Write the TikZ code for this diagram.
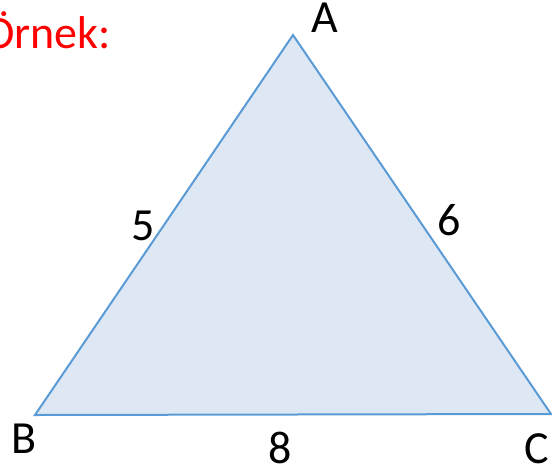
\documentclass[tikz,border=0pt]{standalone}
\usepackage{fontspec}
\setmainfont{Carlito}
\definecolor{edge}{HTML}{5B9BD5}
\definecolor{fillc}{HTML}{DEE8F5}
\begin{document}
\begin{tikzpicture}[x=1pt,y=-1pt,
  lbl/.style={font=\fontsize{46}{46}\selectfont, inner sep=0pt, anchor=base}]
\useasboundingbox (0,0) rectangle (552,475);
\clip (0,0) rectangle (552,475);
\coordinate (A) at (293,35);
\coordinate (B) at (35,415);
\coordinate (C) at (551,414);
\draw[edge, fill=fillc, line width=2pt, line join=miter] (A) -- (B) -- (C) -- cycle;
\node[lbl, anchor=base east, text=red] (title) at (111,48) {Örnek:};
\node[lbl] (la) at (325,32) {A};
\node[lbl] (lb) at (24,453) {B};
\node[lbl] (lc) at (537,463) {C};
\node[lbl] (l5) at (143,240) {5};
\node[lbl] (l6) at (449,235) {6};
\node[lbl] (l8) at (280,463) {8};
\end{tikzpicture}
\end{document}
